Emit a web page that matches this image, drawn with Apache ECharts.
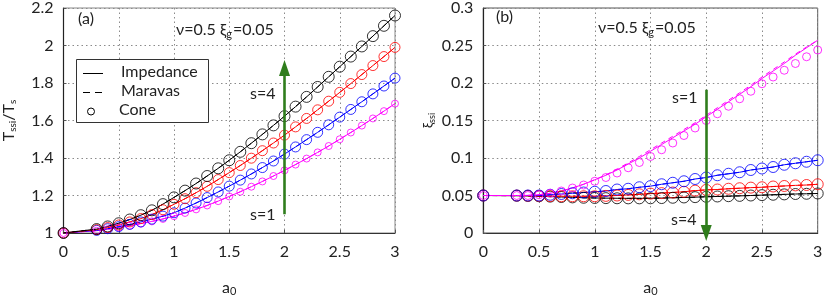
<!DOCTYPE html>
<html><head><meta charset="utf-8">
<script src="https://cdn.jsdelivr.net/npm/echarts@6/dist/echarts.min.js"></script>
<style>html,body{margin:0;padding:0;background:#fff}#c{width:827px;height:302px}</style>
</head><body><div id="c"></div>
<script>
// a0 sample points (shared by all curves)
const a0 = [0,0.3,0.4,0.5,0.6,0.7,0.8,0.9,1.0,1.1,1.2,1.3,1.4,1.5,1.6,1.7,1.8,1.9,2.0,2.1,2.2,2.3,2.4,2.5,2.6,2.7,2.8,2.9,3.0];
const xTicks = [0,0.5,1,1.5,2,2.5,3];

// (a) Tssi/Ts, s=1..4
const tS4 = [1.000,1.021,1.035,1.052,1.072,1.095,1.121,1.154,1.190,1.226,1.264,1.304,1.345,1.388,1.433,1.479,1.526,1.574,1.623,1.674,1.726,1.779,1.833,1.887,1.941,1.995,2.050,2.105,2.160];
const tS3 = [1.000,1.018,1.029,1.043,1.059,1.077,1.098,1.124,1.153,1.183,1.215,1.249,1.285,1.322,1.360,1.399,1.439,1.480,1.522,1.566,1.611,1.657,1.703,1.750,1.797,1.845,1.893,1.941,1.990];
const tS2 = [1.000,1.014,1.023,1.034,1.046,1.059,1.074,1.090,1.108,1.133,1.160,1.189,1.219,1.250,1.282,1.315,1.349,1.384,1.421,1.459,1.498,1.537,1.577,1.618,1.659,1.700,1.742,1.784,1.826];
const tS1 = [1.000,1.012,1.020,1.029,1.039,1.050,1.062,1.075,1.090,1.107,1.126,1.147,1.170,1.195,1.220,1.247,1.275,1.304,1.334,1.365,1.397,1.430,1.464,1.500,1.536,1.573,1.611,1.650,1.690];

// (b) xi_ssi, s=1..4
const xiS4 = [0.0500,0.0497,0.0494,0.0490,0.0485,0.0480,0.0475,0.0470,0.0467,0.0465,0.0463,0.0462,0.0462,0.0463,0.0466,0.0470,0.0474,0.0478,0.0483,0.0487,0.0491,0.0495,0.0500,0.0505,0.0510,0.0515,0.0520,0.0523,0.0527];
const xiS3 = [0.0500,0.0499,0.0497,0.0495,0.0492,0.0490,0.0490,0.0490,0.0490,0.0495,0.0500,0.0508,0.0516,0.0525,0.0532,0.0540,0.0550,0.0565,0.0575,0.0580,0.0590,0.0597,0.0605,0.0610,0.0620,0.0627,0.0635,0.0640,0.0650];
const xiS2 = [0.0500,0.0500,0.0500,0.0500,0.0510,0.0520,0.0530,0.0540,0.0550,0.0560,0.0580,0.0590,0.0610,0.0625,0.0650,0.0670,0.0690,0.0720,0.0740,0.0770,0.0790,0.0810,0.0840,0.0860,0.0880,0.0910,0.0930,0.0950,0.0970];
const xiS1Imp = [0.0500,0.0500,0.0502,0.0510,0.0530,0.0560,0.0600,0.0650,0.0710,0.0770,0.0840,0.0920,0.1000,0.1090,0.1180,0.1270,0.1360,0.1450,0.1550,0.1650,0.1750,0.1850,0.1950,0.2060,0.2160,0.2260,0.2370,0.2470,0.2570];
const xiS1Mar = [0.0500,0.0500,0.0502,0.0510,0.0530,0.0560,0.0600,0.0650,0.0710,0.0775,0.0850,0.0935,0.1020,0.1110,0.1200,0.1290,0.1380,0.1470,0.1570,0.1670,0.1770,0.1870,0.1970,0.2080,0.2180,0.2280,0.2385,0.2480,0.2570];
const xiS1Cone = [0.050,0.050,0.050,0.051,0.053,0.056,0.060,0.064,0.069,0.074,0.080,0.087,0.094,0.102,0.111,0.120,0.130,0.140,0.150,0.159,0.169,0.179,0.189,0.199,0.208,0.217,0.226,0.235,0.244];

// arrows (data coordinates)
const arrowA = [[2,1.1],[2,1.88]];
const arrowB = [[2,0.191],[2,0]];

const FONT = 'Lato';
const col = {s1:'#ff00ff', s2:'#0000ff', s3:'#ff0000', s4:'#000000'};
const green = '#2f7d1c';

function pts(arr){ return a0.map((x,i)=>[x,arr[i]]); }
function lineS(idx, arr, color, dashed){
  return {type:'line', xAxisIndex:idx, yAxisIndex:idx, data:pts(arr), symbol:'none', silent:true,
    lineStyle:{color:color, width:1, type: dashed ? [5,4] : 'solid'}, z:3};
}
function coneS(idx, arr, color, size){
  return {type:'scatter', xAxisIndex:idx, yAxisIndex:idx, data:pts(arr), symbol:'circle', symbolSize:size, silent:true,
    itemStyle:{color:'rgba(0,0,0,0)', borderColor:color, borderWidth:1}, z:4};
}
function arrowS(idx, seg){
  return {type:'line', xAxisIndex:idx, yAxisIndex:idx, data:[], silent:true,
    markLine:{silent:true, symbol:['none','triangle'], symbolSize:[11,16], label:{show:false},
      lineStyle:{color:green, width:2.6, type:'solid'},
      data:[[{coord:seg[0]},{coord:seg[1]}]]}, z:6};
}
function xAx(idx){
  return {gridIndex:idx, type:'value', min:0, max:3, interval:0.5,
    name:'a{sub|0}', nameLocation:'middle', nameGap:46,
    nameTextStyle:{fontFamily:FONT, fontSize:16, color:'#222', rich:{sub:{fontFamily:FONT,fontSize:11,verticalAlign:'bottom',padding:[7,0,0,0],color:'#222'}}},
    axisLine:{show:true, lineStyle:{color:'#333', width:1.2}},
    axisTick:{show:true, inside:true, length:3, lineStyle:{color:'#555'}},
    axisLabel:{fontFamily:FONT, fontSize:16, color:'#222', margin:11},
    splitLine:{show:true, lineStyle:{color:'#8a8a8a', type:[1.5,3], width:1}}};
}
const sub10 = {sub:{fontFamily:FONT,fontSize:10,color:'#222',padding:[7,0,0,0]}};
const option = {
  animation:false,
  backgroundColor:'#fff',
  grid:[
    {left:60.7, right:432, top:7, bottom:65, show:true, borderColor:'#888', borderWidth:1},
    {left:483.3, right:9.3, top:5, bottom:64.7, show:true, borderColor:'#555', borderWidth:1}
  ],
  xAxis:[xAx(0), xAx(1)],
  yAxis:[
    {gridIndex:0, type:'value', min:1, max:2.2, interval:0.2,
      name:'T{sub|ssi}/T{sub|s}', nameLocation:'middle', nameGap:46,
      nameTextStyle:{fontFamily:FONT, fontSize:16, color:'#222', rich:sub10},
      axisLine:{show:true, lineStyle:{color:'#222', width:1.2}},
      axisTick:{show:true, inside:true, length:3, lineStyle:{color:'#555'}},
      axisLabel:{fontFamily:FONT, fontSize:16, color:'#222', margin:10},
      splitLine:{show:true, lineStyle:{color:'#8a8a8a', type:[1.5,3], width:1}}},
    {gridIndex:1, type:'value', min:0, max:0.3, interval:0.05,
      name:'ξ{sub|ssi}', nameLocation:'middle', nameGap:47,
      nameTextStyle:{fontFamily:FONT, fontSize:13, color:'#222', rich:{sub:{fontFamily:FONT,fontSize:9,color:'#222',padding:[5,0,0,0]}}},
      axisLine:{show:true, lineStyle:{color:'#222', width:1.2}},
      axisTick:{show:true, inside:true, length:3, lineStyle:{color:'#555'}},
      axisLabel:{fontFamily:FONT, fontSize:16, color:'#222', margin:10},
      splitLine:{show:true, lineStyle:{color:'#8a8a8a', type:[1.5,3], width:1}}}
  ],
  series:[
    lineS(0,tS1,col.s1,false), lineS(0,tS1,col.s1,true), coneS(0,tS1,col.s1,7),
    lineS(0,tS2,col.s2,false), lineS(0,tS2,col.s2,true), coneS(0,tS2,col.s2,10),
    lineS(0,tS3,col.s3,false), lineS(0,tS3,col.s3,true), coneS(0,tS3,col.s3,10),
    lineS(0,tS4,col.s4,false), lineS(0,tS4,col.s4,true), coneS(0,tS4,col.s4,11),
    lineS(1,xiS4,col.s4,false), lineS(1,xiS4,col.s4,true), coneS(1,xiS4,col.s4,11),
    lineS(1,xiS3,col.s3,false), lineS(1,xiS3,col.s3,true), coneS(1,xiS3,col.s3,11),
    lineS(1,xiS2,col.s2,false), lineS(1,xiS2,col.s2,true), coneS(1,xiS2,col.s2,11),
    lineS(1,xiS1Imp,col.s1,false), lineS(1,xiS1Mar,col.s1,true), coneS(1,xiS1Cone,col.s1,8),
    arrowS(0,arrowA), arrowS(1,arrowB)
  ],
  graphic:[
    {type:'text', left:78, top:11, style:{text:'(a)', font:'16px Lato', fill:'#222'}},
    {type:'text', left:496, top:9, style:{text:'(b)', font:'16px Lato', fill:'#222'}},
    {type:'text', left:176, top:22, style:{text:'ν=0.5 ξ{sub|g}=0.05', font:'16px Lato', fill:'#222',
      rich:{sub:{font:'11px Lato', fill:'#222', padding:[8,1,0,0]}}}},
    {type:'text', left:598, top:20, style:{text:'ν=0.5 ξ{sub|g}=0.05', font:'16px Lato', fill:'#222',
      rich:{sub:{font:'11px Lato', fill:'#222', padding:[8,1,0,0]}}}},
    {type:'text', left:250, top:86, style:{text:'s=4', font:'16px Lato', fill:'#222'}},
    {type:'text', left:250, top:207, style:{text:'s=1', font:'16px Lato', fill:'#222'}},
    {type:'text', left:672, top:90, style:{text:'s=1', font:'16px Lato', fill:'#222'}},
    {type:'text', left:671, top:212, style:{text:'s=4', font:'16px Lato', fill:'#222'}},
    // legend box
    {type:'rect', shape:{x:76.5, y:59.5, width:132, height:63}, style:{fill:'#fff', stroke:'#333', lineWidth:1}, z:10},
    {type:'line', shape:{x1:83, y1:73.5, x2:103, y2:73.5}, style:{stroke:'#000', lineWidth:1}, z:11},
    {type:'text', left:121, top:64, style:{text:'Impedance', font:'16px Lato', fill:'#222'}, z:11},
    {type:'line', shape:{x1:83, y1:92.5, x2:103, y2:92.5}, style:{stroke:'#000', lineWidth:1, lineDash:[7,5]}, z:11},
    {type:'text', left:121, top:83, style:{text:'Maravas', font:'16px Lato', fill:'#222'}, z:11},
    {type:'circle', shape:{cx:91, cy:111.5, r:3.5}, style:{fill:'none', stroke:'#000', lineWidth:1}, z:11},
    {type:'text', left:119, top:102, style:{text:'Cone', font:'16px Lato', fill:'#222'}, z:11}
  ]
};
const chart = echarts.init(document.getElementById('c'), null, {renderer:'canvas'});
chart.setOption(option);
</script></body></html>
